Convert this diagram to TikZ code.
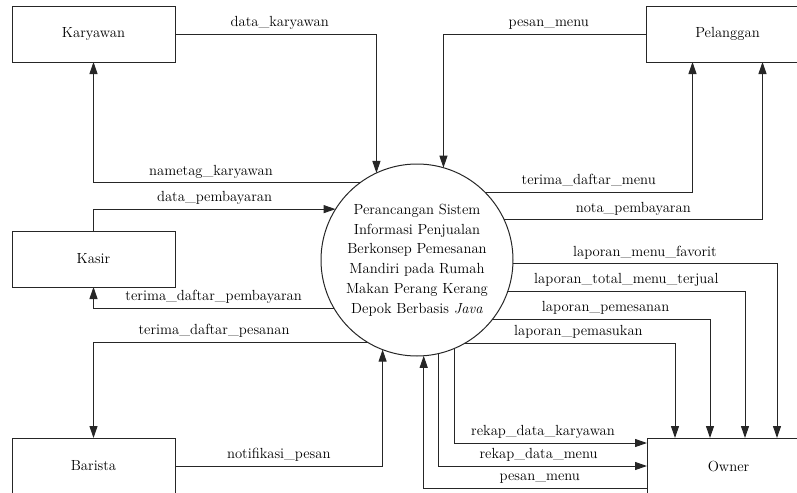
\documentclass[tikz,border=0pt]{standalone}
\usepackage{fontspec}
\usetikzlibrary{arrows.meta,calc}

\begin{document}
\begin{tikzpicture}[x=0.75pt,y=-0.75pt,
  every node/.style={font=\fontsize{11}{14.8}\selectfont, outer sep=0pt},
  entity/.style={draw=black!85, line width=0.75pt, minimum width=122.25pt, minimum height=42pt},
  proses/.style={circle, draw=black!85, line width=0.75pt, minimum size=144pt, inner sep=0pt, align=center},
  flow/.style={draw=black!85, line width=0.75pt, -{Triangle[length=9pt,width=6pt]}},
  lbl/.style={anchor=base, yshift=5.5pt, inner sep=0pt}]

\useasboundingbox (0,0) rectangle (797,493);

\node[entity] (kary) at (93.5,34) {Karyawan};
\node[entity] (pel) at (727.5,34) {Pelanggan};
\node[entity] (kasir) at (93.5,259) {Kasir};
\node[entity] (barista) at (93.5,466) {Barista};
\node[entity] (owner) at (728.5,466) {Owner};
\node[proses] (proc) at (417,260) {Perancangan Sistem\\Informasi Penjualan\\Berkonsep Pemesanan\\Mandiri pada Rumah\\Makan Perang Kerang\\Depok Berbasis \textit{Java}};

\draw[flow] (kary.east) -| node[lbl,pos=.26] (l1) {data\_karyawan} (proc.115.9);
\draw[flow] (proc.126.7) -| node[lbl,pos=.28] (l2) {nametag\_karyawan} (kary.south);
\draw[flow] (kasir.north) |- node[lbl,pos=.75] (l3) {data\_pembayaran} (proc.148.6);
\draw[flow] (proc.210) -| node[lbl,pos=.25] (l4) {terima\_daftar\_pembayaran} (kasir.south);
\draw[flow] (proc.239.9) -| node[lbl,pos=.28] (l5) {terima\_daftar\_pesanan} (barista.north);
\draw[flow] (barista.east) -| node[lbl,pos=.25] (l6) {notifikasi\_pesan} (proc.249.9);

\draw[flow] (pel.west) -| node[lbl,pos=.24] (l7) {pesan\_menu} (proc.74.9);
\draw[flow] (proc.45.1) -| node[lbl,pos=.25] (l8) {terima\_daftar\_menu} ($(pel.south)+(-35,0)$);
\draw[flow] (proc.25.3) -| node[lbl,pos=.25] (l9) {nota\_pembayaran} ($(pel.south)+(35,0)$);

\draw[flow] (proc.358.8) -| node[lbl,pos=.25] (l10) {laporan\_menu\_favorit} ($(owner.north west)+(130,0)$);
\draw[flow] (proc.341.8) -| node[lbl,pos=.25] (l11) {laporan\_total\_menu\_terjual} ($(owner.north west)+(98,0)$);
\draw[flow] (proc.322.8) -| node[lbl,pos=.26] (l12) {laporan\_pemesanan} ($(owner.north west)+(63,0)$);
\draw[flow] (proc.300.1) -| node[lbl,pos=.27] (l13) {laporan\_pemasukan} ($(owner.north west)+(28,0)$);
\draw[flow] (proc.293.3) |- node[lbl,pos=.73] (l14) {rekap\_data\_karyawan} ($(owner.north west)+(0,5)$);
\draw[flow] (proc.283.9) |- node[lbl,pos=.74] (l15) {rekap\_data\_menu} (owner.west);
\draw[flow] ($(owner.south west)+(0,-6)$) -| node[lbl,pos=.24] (l16) {pesan\_menu} (proc.274.2);
\end{tikzpicture}
\end{document}
